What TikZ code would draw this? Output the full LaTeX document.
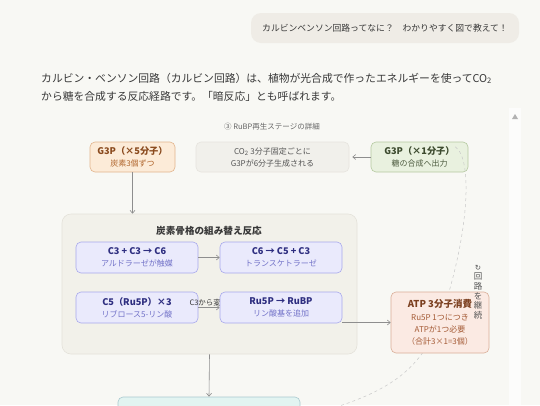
\documentclass[tikz,border=0pt]{standalone}
\usepackage{fontspec}
\setmainfont{Noto Sans CJK JP}
\newfontfamily\symf{DejaVu Sans}
\usetikzlibrary{arrows.meta}
\pgfdeclarelayer{bg}
\pgfdeclarelayer{front}
\pgfsetlayers{bg,main,front}
\newcommand\fsz[2]{\fontsize{#1pt}{#2pt}\selectfont}
\definecolor{bgc}{HTML}{F8F8F4}
\definecolor{sbc}{HTML}{FCFCFB}
\definecolor{qfill}{HTML}{EFECE6}
\definecolor{txt}{HTML}{383838}
\definecolor{gtxt}{HTML}{666666}
\definecolor{g5f}{HTML}{FCEBD8}
\definecolor{g5d}{HTML}{E2B48C}
\definecolor{g5t}{HTML}{8A4A1E}
\definecolor{g5s}{HTML}{B0652C}
\definecolor{midf}{HTML}{F1F0EB}
\definecolor{midd}{HTML}{E6E4DE}
\definecolor{midt}{HTML}{555555}
\definecolor{g1f}{HTML}{E9F1DF}
\definecolor{g1d}{HTML}{B5C9A0}
\definecolor{g1t}{HTML}{3C4A2E}
\definecolor{g1s}{HTML}{4E5C40}
\definecolor{grpf}{HTML}{F2F1EA}
\definecolor{grpd}{HTML}{E4E2DA}
\definecolor{lavf}{HTML}{EAEAFC}
\definecolor{lavd}{HTML}{A8A8EC}
\definecolor{lavt}{HTML}{2E2E80}
\definecolor{lavs}{HTML}{7272C8}
\definecolor{atpf}{HTML}{FBEAE3}
\definecolor{atpd}{HTML}{D9AE98}
\definecolor{atpt}{HTML}{7B3F1F}
\definecolor{atps}{HTML}{A45A35}
\definecolor{botf}{HTML}{E2F4F1}
\definecolor{botd}{HTML}{A9C9CF}
\definecolor{arrowc}{HTML}{8E8E8E}
\definecolor{curvec}{HTML}{C8C8C8}
\begin{document}
\begin{tikzpicture}[x=1pt,y=-1pt,
  >={Straight Barb[length=3pt,width=5pt]},
  box/.style={draw, rounded corners=5pt, line width=0.6pt, align=center, inner sep=0pt},
  arr/.style={draw=arrowc, line width=0.6pt, ->},
  lav/.style={box, fill=lavf, draw=lavd, minimum width=122pt, minimum height=31pt},
]
\useasboundingbox (0,0) rectangle (540,405);
\clip (0,0) rectangle (540,405);
\begin{pgfonlayer}{bg}
\fill[bgc] (0,0) rectangle (540,405);
% scrollbar
\fill[sbc] (509,108) rectangle (521,405);
\fill[gray!60] (512,119) -- (518,119) -- (515,114) -- cycle;
\end{pgfonlayer}

% question bubble
\node[fill=qfill, rounded corners=10pt, minimum width=268pt, minimum height=30pt, inner sep=0pt,
  font=\fsz{8.8}{10}, text=txt] (q) at (385,28) {カルビンベンソン回路ってなに？　わかりやすく図で教えて！};

% paragraph
\node[anchor=base west, inner sep=0pt, font=\fsz{10.8}{13}, text=txt] (p1) at (41,82)
  {カルビン・ベンソン回路（カルビン回路）は、植物が光合成で作ったエネルギーを使ってCO\textsubscript{2}};
\node[anchor=base west, inner sep=0pt, font=\fsz{10.8}{13}, text=txt] (p2) at (41,100.5)
  {から糖を合成する反応経路です。「暗反応」とも呼ばれます。};

% stage title
\node[font=\fsz{7.5}{9}, text=gtxt] (ttl) at (272,127) {③ RuBP再生ステージの詳細};

% top row
\node[box, fill=g5f, draw=g5d, minimum width=85pt, minimum height=30pt] (g5) at (132.5,157)
  {{\fsz{9.2}{11.5}\bfseries\color{g5t}G3P（×5分子）}\\{\fsz{8}{10}\color{g5s}炭素3個ずつ}};
\node[box, fill=midf, draw=midd, minimum width=153pt, minimum height=30pt] (mid) at (272.5,157)
  {{\fsz{8}{11}\color{midt}CO\textsubscript{2} 3分子固定ごとに}\\{\fsz{8}{10}\color{midt}G3Pが6分子生成される}};
\node[box, fill=g1f, draw=g1d, minimum width=97pt, minimum height=30pt] (g1) at (419.5,157)
  {{\fsz{9.2}{11.5}\bfseries\color{g1t}G3P（×1分子）}\\{\fsz{8}{10}\color{g1s}糖の合成へ出力}};

% bottom (cut-off) box
\node[box, fill=botf, draw=botd, minimum width=182pt, minimum height=40pt] (bot) at (209,417) {};

% dashed loop curve
\draw[dashed, curvec, line width=0.5pt] ([xshift=-13pt,yshift=-5pt]g1.north east)
  .. controls (474,160) and (468,240) .. (440,320)
  .. controls (420,370) and (390,395) .. (bot.east);

% group box
\begin{pgfonlayer}{bg}
\node[draw=grpd, fill=grpf, rounded corners=9pt, line width=0.6pt, minimum width=295pt, minimum height=140pt] (grp) at (209.5,284) {};
\end{pgfonlayer}
\node[font=\fsz{9.6}{11}\bfseries, text=txt] (grpt) at (209,231) {炭素骨格の組み替え反応};

\node[lav] (a) at (137,257.5) {{\fsz{9.2}{12}\bfseries\color{lavt}C3 + C3 → C6}\\{\fsz{8}{10}\color{lavs}アルドラーゼが触媒}};
\node[lav] (b) at (281,257.5) {{\fsz{9.2}{12}\bfseries\color{lavt}C6 → C5 + C3}\\{\fsz{8}{10}\color{lavs}トランスケトラーゼ}};
\node[lav] (c) at (137,307.5) {{\fsz{9.2}{12}\bfseries\color{lavt}C5（Ru5P）×3}\\{\fsz{8}{10}\color{lavs}リブロース5-リン酸}};
\begin{pgfonlayer}{front}
\node[lav] (d) at (281,307.5) {{\fsz{9.2}{12}\bfseries\color{lavt}Ru5P → RuBP}\\{\fsz{8}{10}\color{lavs}リン酸基を追加}};
\end{pgfonlayer}

% ATP box
\node[box, fill=atpf, draw=atpd, minimum width=98pt, minimum height=61pt] (atp) at (440,322.5)
  {{\fsz{9.5}{13}\bfseries\color{atpt}ATP 3分子消費}\\[1pt]
   {\fsz{8}{11.5}\color{atps}Ru5P 1つにつき}\\{\fsz{8}{11.5}\color{atps}ATPが1つ必要}\\{\fsz{8}{11.5}\color{atps}（合計3×1=3個）}};

% arrows
\draw[arr, shorten >=3pt] (g1.west) -- (mid.east);
\draw[arr] (g5.south) -- (g5.south |- grp.north);
\draw[arr] (a.east) -- (b.west);
\draw[arr] (c.east) -- node[above=0pt, font=\fsz{7.5}{9}, text=txt, inner sep=1pt] (lbl) {C3から変換} (d.west);
\draw[arr] (d.east |- atp.west) -- (atp.west);
\draw[arr] (grp.south) -- (bot.north);

% vertical label
\node[align=center, inner sep=0pt, font=\fsz{8.5}{9.6}, text=midt] (vt) at (478,292)
  {{\symf\fsz{7.5}{9.6}↻}\\回\\路\\を\\継\\続};
\end{tikzpicture}
\end{document}
